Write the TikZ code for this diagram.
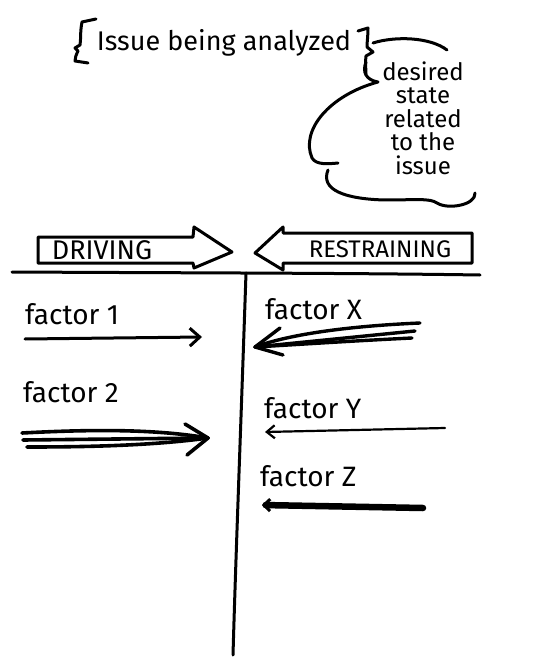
\documentclass[tikz,border=0pt]{standalone}
\usepackage{fontspec}
\setmainfont{Fira Sans}
\usetikzlibrary{arrows.meta}
\begin{document}
\begin{tikzpicture}[x=1pt,y=-1pt,
  ink/.style={line width=3pt, line cap=round, line join=round},
  bigtxt/.style={font=\fontsize{27}{30}\selectfont, inner sep=0pt},
  facttxt/.style={font=\fontsize{28}{30}\selectfont, inner sep=0pt, anchor=west},
  cloudtxt/.style={font=\fontsize{24}{23.5}\selectfont, inner sep=0pt, align=center},
  hdrtxt/.style={font=\fontsize{27}{28}\selectfont, inner sep=0pt},
  barb/.style={-{Straight Barb[length=10pt,width=18pt,line width=3pt]}}
]
\useasboundingbox (0,0) rectangle (535,660);

% title with braces
\node[bigtxt] (issue) at (224,43) {Issue being analyzed};
\draw[ink] (96,19) -- (82,22) .. controls (80,32) and (81,40) .. (80,45)
  -- (75,48) -- (78,51) .. controls (76,55) and (75,58) .. (75,61) -- (88,63);
\draw[ink] (358,31) -- (368,28) .. controls (368,36) and (367,42) .. (367,47)
  -- (373,52) -- (366,56) .. controls (365,62) and (366,70) .. (366,74);

% cloud
\draw[ink] (373,43) .. controls (395,36) and (430,37) .. (447,50);
\draw[ink] (366,62) .. controls (362,72) and (366,80) .. (378,82)
  .. controls (330,95) and (300,130) .. (312,158)
  .. controls (316,165) and (328,164) .. (338,163);
\draw[ink] (328,170) .. controls (320,190) and (345,199) .. (385,200)
  .. controls (415,200) and (430,198) .. (437,203)
  .. controls (448,210) and (476,205) .. (475,193);
\node[cloudtxt] (desired) at (423,118) {desired\\state\\related\\to the\\issue};

% header arrows
\draw[ink] (38,237) -- (193,237) -- (194,227) -- (232,252) -- (194,268)
  -- (193,263) -- (38,263) -- cycle;
\node[hdrtxt] (driving) at (102,250) {DRIVING};
\draw[ink] (255,253) -- (283,227) -- (283,233) -- (472,233) -- (472,263)
  -- (283,263) -- (283,270) -- cycle;
\node[hdrtxt,font=\fontsize{24}{26}\selectfont] (restraining) at (380,249) {RESTRAINING};

% T chart lines
\coordinate (hl) at (12,272);
\coordinate (hr) at (480,275);
\coordinate (vt) at (246,273);
\coordinate (vb) at (233,655);
\draw[ink] (hl) .. controls (200,273) and (350,273) .. (hr);
\draw[ink] (vt) .. controls (240,450) and (236,550) .. (vb);

% driving factors
\node[facttxt] (f1) at (25,314) {factor 1};
\coordinate (f1a) at (25,339);
\coordinate (f1b) at (202,337);
\draw[ink,barb] (f1a) -- (f1b);

\node[facttxt] (f2) at (23,392) {factor 2};
\coordinate (f2t) at (208,438);
\coordinate (f2a) at (22,433);
\coordinate (f2b) at (23,440);
\coordinate (f2c) at (27,447);
\draw[ink,line width=3.6pt] (f2a) .. controls (80,430) and (150,428) .. (f2t);
\draw[ink,line width=3.6pt] (f2b) -- (f2t);
\draw[ink,line width=3.6pt] (f2c) .. controls (80,447) and (150,446) .. (f2t);
\draw[ink,line width=3.6pt] (185,424) -- (f2t) -- (187,455);

% restraining factors
\node[facttxt] (fx) at (265,309) {factor X};
\coordinate (fxt) at (255,347);
\coordinate (fxa) at (420,323);
\coordinate (fxb) at (415,331);
\coordinate (fxc) at (412,338);
\draw[ink,line width=3.4pt] (fxa) .. controls (350,326) and (290,334) .. (fxt);
\draw[ink,line width=3.4pt] (fxb) -- (fxt);
\draw[ink,line width=3.4pt] (fxc) .. controls (350,341) and (290,345) .. (fxt);
\draw[ink,line width=3.4pt] (280,328) -- (fxt) -- (283,355);

\node[facttxt] (fy) at (264,408) {factor Y};
\coordinate (fya) at (445,428);
\coordinate (fyb) at (265,432);
\draw[ink,line width=2.2pt,-{Straight Barb[length=8pt,width=13pt,line width=2.2pt]}] (fya) -- (fyb);

\node[facttxt] (fz) at (260,476) {factor Z};
\coordinate (fza) at (423,508);
\coordinate (fzb) at (262,505);
\draw[ink,line width=6.5pt,-{Straight Barb[length=6pt,width=12pt,line width=3pt]}] (fza) -- (fzb);
\end{tikzpicture}
\end{document}
